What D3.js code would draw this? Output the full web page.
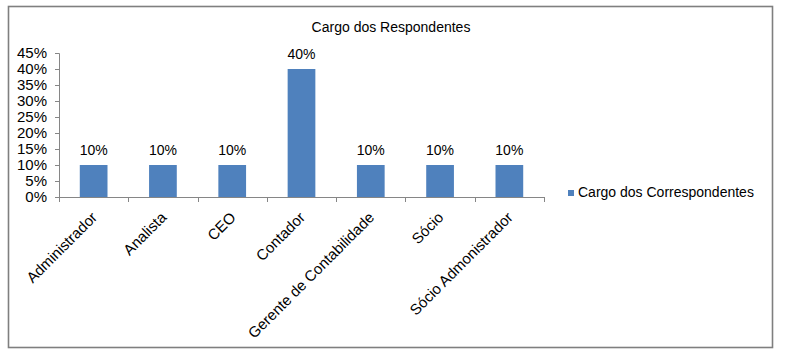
<!DOCTYPE html>
<html>
<head>
<meta charset="utf-8">
<script src="https://cdn.jsdelivr.net/npm/d3@7"></script>
<style>
  html, body { margin: 0; padding: 0; background: #fff; }
  svg { display: block; font-family: Arial, "Liberation Sans", sans-serif; }
</style>
</head>
<body>
<svg id="chart" width="787" height="358"></svg>
<script>
const title = "Cargo dos Respondentes";
const seriesName = "Cargo dos Correspondentes";
const categories = ["Administrador", "Analista", "CEO", "Contador", "Gerente de Contabilidade", "Sócio", "Sócio Admonistrador"];
const values = [0.10, 0.10, 0.10, 0.40, 0.10, 0.10, 0.10];
const yTicks = [0, 0.05, 0.10, 0.15, 0.20, 0.25, 0.30, 0.35, 0.40, 0.45];

const svg = d3.select("#chart");
const axisColor = "#868686";
const barColor = "#4F81BD";

// outer frame
svg.append("rect")
  .attr("x", 8.5).attr("y", 6.5)
  .attr("width", 764).attr("height", 341)
  .attr("fill", "#fff")
  .attr("stroke", "#7f7f7f")
  .attr("stroke-width", 1.6);

const plot = { left: 59, right: 544, top: 53, bottom: 197 };

const x = d3.scaleBand()
  .domain(categories)
  .range([plot.left, plot.right])
  .paddingInner(0.6)
  .paddingOuter(0.3);

const xTickScale = d3.scaleLinear().domain([0, categories.length]).range([plot.left, plot.right]);

const y = d3.scaleLinear().domain([0, 0.45]).range([plot.bottom, plot.top]);

// title
svg.append("text")
  .attr("x", 391).attr("y", 32)
  .attr("text-anchor", "middle")
  .attr("font-size", "14px")
  .attr("fill", "#000")
  .text(title);

// y axis
const yAxis = d3.axisLeft(y)
  .tickValues(yTicks)
  .tickFormat(d3.format(".0%"))
  .tickSize(4)
  .tickPadding(8);

const gy = svg.append("g")
  .attr("transform", `translate(${plot.left},0)`)
  .call(yAxis);
gy.select(".domain").attr("stroke", axisColor);
gy.selectAll(".tick line").attr("stroke", axisColor);
gy.selectAll(".tick text")
  .attr("font-size", "15px")
  .attr("fill", "#000")
  .attr("font-family", "Arial, 'Liberation Sans', sans-serif");

// bars
svg.append("g")
  .selectAll("rect")
  .data(categories)
  .join("rect")
  .attr("x", d => x(d))
  .attr("width", x.bandwidth())
  .attr("y", (d, i) => y(values[i]))
  .attr("height", (d, i) => y(0) - y(values[i]))
  .attr("fill", barColor);

// data labels
svg.append("g")
  .selectAll("text")
  .data(categories)
  .join("text")
  .attr("x", d => x(d) + x.bandwidth() / 2)
  .attr("y", (d, i) => y(values[i]) - 10)
  .attr("text-anchor", "middle")
  .attr("font-size", "14px")
  .attr("fill", "#000")
  .text((d, i) => d3.format(".0%")(values[i]));

// x axis line and ticks
const gx = svg.append("g");
gx.append("line")
  .attr("x1", plot.left).attr("x2", plot.right)
  .attr("y1", plot.bottom + 0.5).attr("y2", plot.bottom + 0.5)
  .attr("stroke", axisColor);
gx.selectAll("line.tk")
  .data(d3.range(categories.length + 1))
  .join("line")
  .attr("class", "tk")
  .attr("x1", d => Math.round(xTickScale(d)) + 0.5)
  .attr("x2", d => Math.round(xTickScale(d)) + 0.5)
  .attr("y1", plot.bottom)
  .attr("y2", plot.bottom + 5)
  .attr("stroke", axisColor);

// x labels rotated
svg.append("g")
  .selectAll("text")
  .data(categories)
  .join("text")
  .attr("transform", d => `translate(${x(d) + x.bandwidth() / 2 - 3},${plot.bottom + 14}) rotate(-45)`)
  .attr("text-anchor", "end")
  .attr("dy", "0.7em")
  .attr("font-size", "15px")
  .attr("fill", "#000")
  .text(d => d);

// legend
const lg = svg.append("g");
lg.append("rect")
  .attr("x", 568).attr("y", 190)
  .attr("width", 6).attr("height", 6)
  .attr("fill", barColor);
lg.append("text")
  .attr("x", 578).attr("y", 197)
  .attr("font-size", "14px")
  .attr("fill", "#000")
  .text(seriesName);
</script>
</body>
</html>
